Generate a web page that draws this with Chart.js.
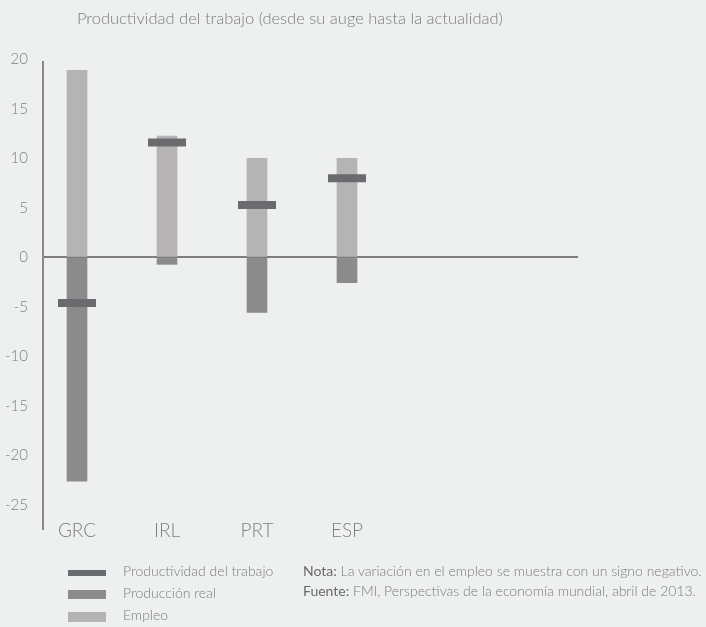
<!DOCTYPE html>
<html lang="es">
<head>
    <meta charset="UTF-8">
    <title>Productividad del trabajo</title>
    <script src="https://cdn.jsdelivr.net/npm/chart.js"></script>
    <style>
        body {
            margin: 0;
            background: #eef0ef;
            font-family: Lato, sans-serif;
            font-weight: 300;
            color: #7b7b7b;
            overflow: hidden;
        }
        #wrap {
            position: relative;
            width: 706px;
            height: 627px;
        }
        #grafica {
            position: absolute;
            left: 0;
            top: 0;
        }
        #titulo {
            position: absolute;
            left: 77px;
            top: 8px;
            font-size: 16.5px;
            white-space: nowrap;
        }
        .leyenda {
            position: absolute;
            left: 68px;
            font-size: 14px;
            white-space: nowrap;
        }
        .leyenda span {
            display: inline-block;
            width: 38px;
            vertical-align: middle;
            margin-right: 17px;
        }
        .nota {
            position: absolute;
            left: 303px;
            font-size: 14px;
            white-space: nowrap;
        }
        .nota b {
            color: #6a6a6a;
        }
    </style>
</head>
<body>
<div id="wrap">
    <canvas id="grafica" width="706" height="627"></canvas>
    <div id="titulo">Productividad del trabajo (desde su auge hasta la actualidad)</div>

    <div class="leyenda" style="top:562px"><span style="height:6px;background:#6a6b6f"></span>Productividad del trabajo</div>
    <div class="leyenda" style="top:584px"><span style="height:9px;background:#8b8b8b"></span>Producción real</div>
    <div class="leyenda" style="top:606px"><span style="height:10px;background:#b5b3b4"></span>Empleo</div>

    <div class="nota" style="top:562px"><b>Nota:</b> La variación en el empleo se muestra con un signo negativo.</div>
    <div class="nota" style="top:582px"><b>Fuente:</b> FMI, Perspectivas de la economía mundial, abril de 2013.</div>
</div>

<script>
    // Datos
    const paises = ['GRC', 'IRL', 'PRT', 'ESP'];
    const empleo = [18.9, 12.25, 10, 10];
    const produccionReal = [-22.6, -0.7, -5.55, -2.55];
    const productividad = [-4.6, 11.6, 5.3, 8.0];
    const ticksY = [20, 15, 10, 5, 0, -5, -10, -15, -20, -25];

    const puntos = arr => arr.map((v, i) => ({ x: i, y: v }));

    Chart.defaults.font.family = 'Lato, sans-serif';
    Chart.defaults.font.weight = 300;
    Chart.defaults.color = '#7f7f7f';

    const ctx = document.getElementById('grafica').getContext('2d');
    new Chart(ctx, {
        type: 'bar',
        data: {
            datasets: [
                {
                    type: 'line',
                    label: 'Productividad del trabajo',
                    data: puntos(productividad),
                    showLine: false,
                    pointStyle: 'line',
                    pointRadius: 19,
                    pointHoverRadius: 19,
                    pointBorderWidth: 8,
                    pointBorderColor: '#6a6b6f',
                    pointBackgroundColor: '#6a6b6f',
                    order: 0
                },
                {
                    label: 'Producción real',
                    data: puntos(produccionReal),
                    backgroundColor: '#8b8b8b',
                    barThickness: 20,
                    order: 1
                },
                {
                    label: 'Empleo',
                    data: puntos(empleo),
                    backgroundColor: '#b5b3b4',
                    barThickness: 20,
                    order: 2
                }
            ]
        },
        options: {
            responsive: false,
            animation: false,
            layout: { padding: { top: 62, right: 128, left: 0, bottom: 0 } },
            plugins: {
                legend: { display: false },
                tooltip: { enabled: false }
            },
            scales: {
                x: {
                    type: 'linear',
                    stacked: true,
                    offset: false,
                    bounds: 'data',
                    min: -0.378,
                    max: 5.567,
                    grid: { display: false, drawTicks: false },
                    border: { display: false },
                    afterBuildTicks: s => { s.ticks = paises.map((p, i) => ({ value: i })); },
                    afterFit: s => { s.height = 98; },
                    ticks: {
                        mirror: true,
                        padding: -13,
                        autoSkip: false,
                        maxRotation: 0,
                        font: { size: 19 },
                        callback: v => paises[v] || ''
                    }
                },
                y: {
                    min: -27.42,
                    max: 19.73,
                    grid: {
                        drawTicks: false,
                        lineWidth: 2,
                        color: c => c.tick && c.tick.value === 0 ? '#7d7d7d' : 'rgba(0,0,0,0)'
                    },
                    border: { display: true, color: '#8a8a8a', width: 2 },
                    afterBuildTicks: s => { s.ticks = ticksY.map(v => ({ value: v })); },
                    afterFit: s => { s.width = 43; },
                    ticks: {
                        padding: 15,
                        font: { size: 15 }
                    }
                }
            }
        }
    });
</script>
</body>
</html>
